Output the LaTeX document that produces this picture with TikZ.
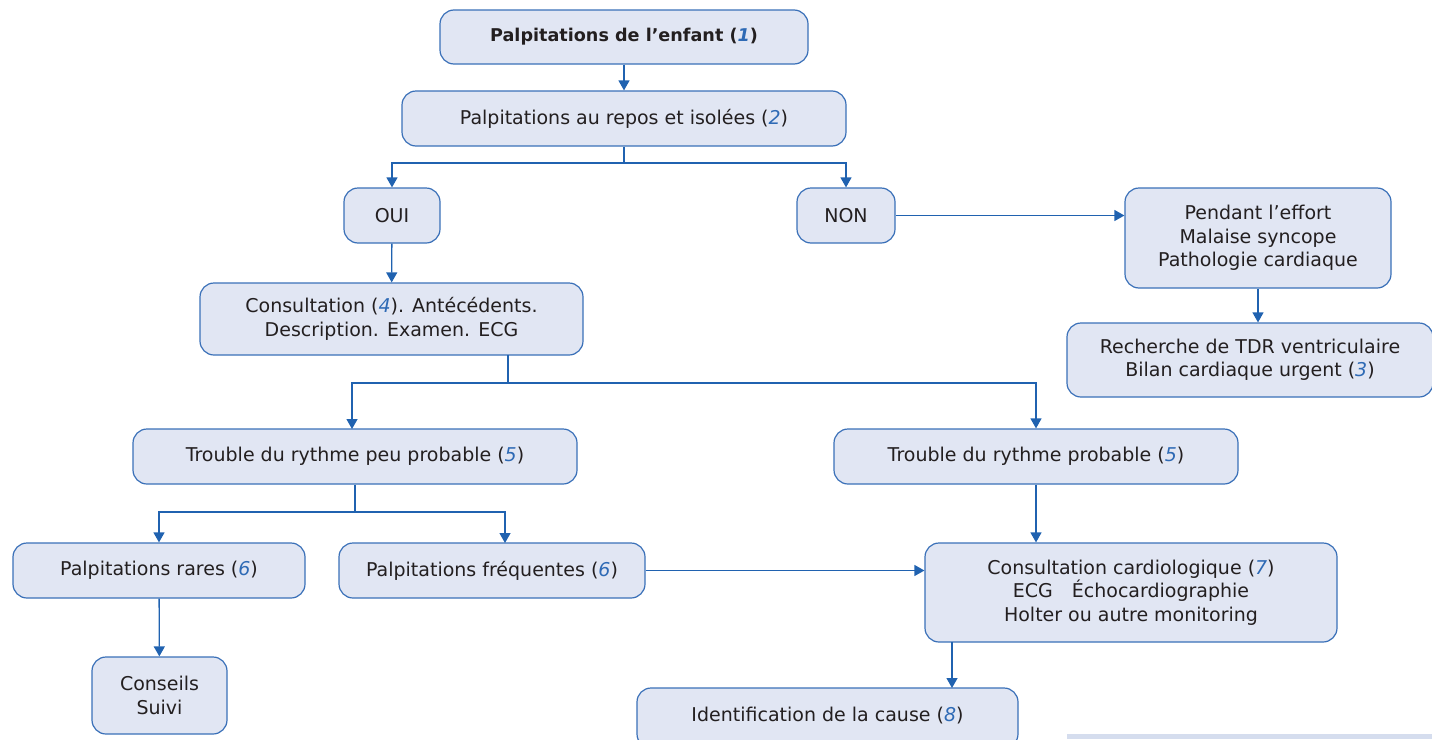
\documentclass[tikz,border=0pt]{standalone}
\usepackage{fontspec}
\setmainfont{DejaVu Sans}
\usetikzlibrary{arrows.meta}
\definecolor{boxfill}{HTML}{E1E6F3}
\definecolor{boxline}{HTML}{3A70B8}
\definecolor{arr}{HTML}{2062B0}
\definecolor{txt}{HTML}{231F20}
\definecolor{num}{HTML}{2E6AB5}
\definecolor{bar}{HTML}{D5DDEE}
\newcommand{\nb}[1]{(\textcolor{num}{\textit{#1}})}
\tikzset{
  x=1pt,y=-1pt,
  box/.style={draw=boxline, fill=boxfill, line width=1.2pt, rounded corners=14pt,
    align=center, text=txt, font=\fontsize{19}{23.5}\selectfont, inner sep=0pt},
  conn/.style={draw=arr, line width=1.3pt},
  arrw/.style={conn, -{Triangle[length=10pt,width=11pt]}},
}
\begin{document}
\begin{tikzpicture}
\useasboundingbox (0,0) rectangle (1432,739);
\fill[bar] (1067,734) rectangle (1432,739);
\begin{scope}
\clip (0,0) rectangle (1432,739);
\node[box, minimum width=368, minimum height=54, font=\fontsize{17.6}{23.5}\selectfont\bfseries] (n1) at (624,37) {Palpitations de l’enfant \nb{1}};
\node[box, minimum width=444, minimum height=55] (n2) at (624,118.5) {Palpitations au repos et isolées \nb{2}};
\node[box, minimum width=96, minimum height=55] (oui) at (392,215.5) {OUI};
\node[box, minimum width=98, minimum height=55] (non) at (846,215.5) {NON};
\node[box, minimum width=266, minimum height=100] (eff) at (1258,238) {Pendant l’effort\\Malaise syncope\\Pathologie cardiaque};
\node[box, minimum width=366, minimum height=74] (tdr) at (1250,360) {Recherche de TDR ventriculaire\\Bilan cardiaque urgent \nb{3}};
\node[box, minimum width=383, minimum height=72] (cons) at (391.5,319) {Consultation \nb{4}. Antécédents.\\Description. Examen. ECG};
\node[box, minimum width=444, minimum height=55] (tpp) at (355,456.5) {Trouble du rythme peu probable \nb{5}};
\node[box, minimum width=404, minimum height=55] (tp) at (1036,456.5) {Trouble du rythme probable \nb{5}};
\node[box, minimum width=292, minimum height=55] (rar) at (159,570.5) {Palpitations rares \nb{6}};
\node[box, minimum width=306, minimum height=55] (fre) at (492,570.5) {Palpitations fréquentes \nb{6}};
\node[box, minimum width=412, minimum height=99] (card) at (1131,592.5) {Consultation cardiologique \nb{7}\\ECG\quad Échocardiographie\\Holter ou autre monitoring};
\node[box, minimum width=135, minimum height=77] (csl) at (159.5,695.5) {Conseils\\Suivi};
\node[box, minimum width=381, minimum height=60] (idf) at (827.5,718) {};
\node[text=txt, font=\fontsize{19}{23.5}\selectfont, inner sep=0pt] (idft) at (827.5,716) {Identification de la cause \nb{8}};
\end{scope}
% connectors
\draw[arrw] (n1) -- (n2);
\coordinate (j1) at (624,163);
\draw[conn] (n2.south) -- (j1);
\draw[arrw] (j1) -| (oui.north);
\draw[arrw] (j1) -| (non.north);
\draw[arrw] (non.east) -- (eff.west |- non.east);
\draw[arrw] (eff.south) -- (eff.south |- tdr.north);
\draw[arrw] (oui) -- (cons);
\coordinate (c0) at (508,355);
\coordinate (j2) at (508,383);
\draw[conn] (c0) -- (j2);
\draw[arrw] (j2) -| (352,429);
\draw[arrw] (j2) -| (tp.north);
\coordinate (j3) at (355,512);
\draw[conn] (tpp.south) -- (j3);
\draw[arrw] (j3) -| (rar.north);
\draw[arrw] (j3) -| (505,543);
\draw[arrw] (rar) -- (csl);
\draw[arrw] (fre.east) -- (card.west |- fre.east);
\draw[arrw] (tp) -- (tp |- card.north);
\draw[arrw] (952,642) -- (952,688);
\end{tikzpicture}
\end{document}
